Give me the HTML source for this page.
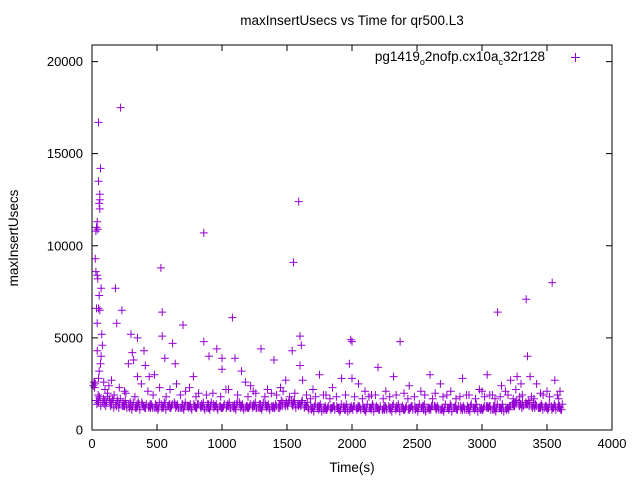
<!DOCTYPE html>
<html><head><meta charset="utf-8"><style>
body{margin:0;background:#fff;}
svg{display:block;font-family:"Liberation Sans",sans-serif;}
</style></head><body>
<svg id="chart" width="640" height="480" viewBox="0 0 640 480" xmlns="http://www.w3.org/2000/svg">
<rect width="640" height="480" fill="#fff"/>
<text x="352" y="25" font-size="13.5" text-anchor="middle">maxInsertUsecs vs Time for qr500.L3</text>
<text x="18" y="238" font-size="13.5" text-anchor="middle" transform="rotate(-90 18 238)">maxInsertUsecs</text>
<text x="352" y="472" font-size="13.5" text-anchor="middle">Time(s)</text>
<g id="ticks"></g>
<g id="marks"></g>
<rect x="92" y="45" width="520" height="385" fill="none" stroke="#000" stroke-width="1"/>
<g>
<text x="545" y="61" font-size="13.5" text-anchor="end">pg1419<tspan font-size="9" dy="4">o</tspan><tspan dy="-4">2nofp.cx10a</tspan><tspan font-size="9" dy="4">c</tspan><tspan dy="-4">32r128</tspan></text>
<path d="M571 57.5h9M575.5 53v9" stroke="#9400d3" stroke-width="1"/>
</g>
</svg>
<script>
const xTicks=[0,500,1000,1500,2000,2500,3000,3500,4000];
const yTicks=[0,5000,10000,15000,20000];
const bandStart=[50,62,38,44,56,68,33,47];
const bandStep=50;
const bandA=[15,16,14,15,13,14,13,13,12,13,13,12,13,12,13,12,13,12,13,12,13,12,13,12,13,12,13,12,13,14,15,14,13,12,12,11,12,12,11,12,12,11,12,12,11,12,12,11,12,12,11,12,12,11,12,12,11,12,12,11,12,12,11,12,13,14,14,13,12,12,12,12];
const bandB=[17,15,16,14,14,13,14,12,13,12,14,13,12,13,12,14,12,13,12,13,12,14,12,13,12,13,12,14,13,15,14,15,12,13,12,12,13,11,12,13,12,12,13,11,12,13,12,12,13,12,11,13,12,12,13,11,12,13,12,12,13,12,12,13,14,15,13,14,13,12,13,11];
const bandC=[14,17,15,13,15,12,13,14,12,14,12,13,14,12,13,13,12,14,12,13,13,12,14,13,12,14,13,12,14,13,14,13,14,11,13,12,11,12,13,12,11,12,12,13,11,12,11,13,12,11,12,12,13,11,12,12,11,13,12,11,12,13,12,11,14,13,15,12,12,13,11,13];
const bandD=[16,14,13,16,13,15,12,13,13,12,13,14,12,14,12,13,14,12,13,12,14,13,12,13,14,12,12,13,12,15,13,14,13,12,11,13,12,12,11,13,12,11,12,12,12,11,13,12,11,12,13,11,12,12,11,13,12,12,11,12,13,11,12,12,13,14,14,15,12,13,12,12];
const bandE=[18,13,17,12,16,11,15,12,14,11,15,12,14,11,14,12,15,11,14,12,15,11,14,12,15,11,14,12,16,13,16,13,15,10,14,11,13,10,14,11,13,10,14,11,13,10,14,11,13,10,14,11,13,10,14,11,13,10,14,11,13,10,14,11,15,12,16,12,14,11,14,11];
const bandF=[13,18,12,17,12,15,11,14,12,15,11,14,12,15,11,14,11,15,11,14,12,15,11,14,12,15,11,13,15,16,12,16,11,14,10,13,11,14,10,13,11,14,10,13,11,14,10,13,11,14,10,13,11,14,10,13,11,14,10,13,11,14,10,13,16,13,15,13,11,14,11,14];
const bandG=[16,15,17,14,13,14,12,15,13,12,14,13,15,12,13,14,13,12,14,13,12,13,15,12,13,12,14,13,12,14,16,14,12,13,12,11,12,13,12,11,12,13,12,12,11,13,12,12,11,13,12,12,13,11,12,12,13,11,12,12,13,11,12,12,14,15,14,13,12,12,13,12];
const bandH=[19,16,15,16,14,13,14,13,14,13,12,14,13,14,13,12,13,14,13,12,13,14,13,12,13,14,13,13,14,15,15,14,13,12,13,12,12,11,12,12,13,12,11,12,13,12,12,11,12,12,13,12,11,12,12,13,12,11,12,12,12,13,12,12,15,14,14,14,13,12,12,13];
const outT=[50,220,65,50,60,55,30,25,30,40,35,40,45,60,60,70,55,50,60,40,75,80,40,70,65,55,20,20,50,90,100,120,180,230,190,300,310,350,320,400,410,440,480,530,540,540,620,560,640,700,780,860,860,900,960,1000,1080,1100,1000,1220,1300,1150,1400,1450,1550,1590,1600,1610,1600,1620,1540,1750,1920,1990,2000,1980,2000,2200,2370,2320,2600,2440,2680,2850,3040,3120,3220,3150,3340,3270,3350,3370,3420,3540,3560,3500,150,250,280,350,600,650,750,820,1050,1180,1260,1350,1490,1700,1800,1850,2050,2100,2150,2260,2400,2530,2640,2760,2900,2980,3000,3080,3180,3260,3300,3450,3580,3600,10,15,25,35,45,
130,170,210,260,330,380,430,470,520,570,680,720,800,880,930,990,1030,1120,1200,1240,1330,1380,1420,1470,1520,1560,1650,1680,1720,1780,1830,1880,1950,2020,2080,2130,2180,2240,2290,2340,2430,2480,2560,2620,2700,2730,2800,2830,2880,2950,3020,3060,3100,3140,3200,3240,3290,3310,3380,3400,3470,3520,3590];
const outV=[16700,17500,14200,13500,12800,12300,10800,9300,8600,8400,11000,11300,10900,12500,12000,7700,7300,6600,6500,5800,5200,4600,4300,4000,3600,3200,2600,2300,2800,2600,2200,2000,7700,6500,5800,5200,4200,5000,3800,4300,3500,2900,3000,8800,6400,5100,4700,3900,3600,5700,2900,10700,4800,4000,4400,3900,6100,3900,3300,2400,4400,3200,3800,2300,9100,12400,5100,4600,3500,2700,4300,3000,2800,4900,4800,3600,2800,3400,4800,2900,3000,2400,2500,2800,3000,6400,2700,2400,7100,2900,4000,2900,2500,8000,2700,2100,2700,2100,3600,2900,2200,2500,2300,2000,2200,2600,2000,2200,2700,2200,1900,2300,2500,2100,1900,2100,2000,2100,2000,2100,1900,2200,2100,1900,2100,2200,2500,2000,1900,2100,2400,2600,2500,6600,8200,
2400,1900,2300,2000,1800,2500,2100,1900,2300,1800,1900,2100,1800,1900,2000,1800,2200,1900,1800,2100,1800,2000,1900,2100,1800,2000,1900,1700,1800,1900,1700,1800,1900,1800,1700,1800,1900,1700,1800,1900,1700,1800,1900,1700,1800,1900,1700,1800,1900,1700,1800,1900,1700,1800,1900,1700,1800,1900,1800,1700,1900,1800,1700];
const X=v=>92+v*520/4000;
const Y=v=>430-v*385/20900;
const NS="http://www.w3.org/2000/svg";
const tg=document.getElementById('ticks');
xTicks.forEach(t=>{
  const x=X(t);
  const p=document.createElementNS(NS,'path');
  p.setAttribute('d',`M${x} 430v-6M${x} 45v6`);p.setAttribute('stroke','#000');
  
  
  tg.appendChild(p);
  const l=document.createElementNS(NS,'text');
  l.setAttribute('x',x);l.setAttribute('y',448);l.setAttribute('font-size','13');l.setAttribute('text-anchor','middle');
  l.textContent=t;
  
  
  tg.appendChild(l);
});
yTicks.forEach(t=>{
  const y=Y(t);
  const p=document.createElementNS(NS,'path');
  p.setAttribute('d',`M92 ${y}h6M612 ${y}h-6`);p.setAttribute('stroke','#000');
  
  
  tg.appendChild(p);
  const l=document.createElementNS(NS,'text');
  l.setAttribute('x',83);l.setAttribute('y',y+4.5);l.setAttribute('font-size','13');l.setAttribute('text-anchor','end');
  l.textContent=t;
  
  
  tg.appendChild(l);
});
const mg=document.getElementById('marks');
let d='';
const plus=(t,v)=>{const x=X(t),y=Y(v);d+=`M${(x-4).toFixed(1)} ${y.toFixed(1)}h8M${x.toFixed(1)} ${(y-4).toFixed(1)}v8`;};
[bandA,bandB,bandC,bandD,bandE,bandF,bandG,bandH].forEach((arr,k)=>arr.forEach((v,i)=>plus(bandStart[k]+i*bandStep,v*100)));
outT.forEach((t,i)=>plus(t,outV[i]));
const path=document.createElementNS(NS,'path');
path.setAttribute('d',d);path.setAttribute('stroke','#9400d3');path.setAttribute('stroke-width','1');path.setAttribute('fill','none');


mg.appendChild(path);
</script>
</body></html>
